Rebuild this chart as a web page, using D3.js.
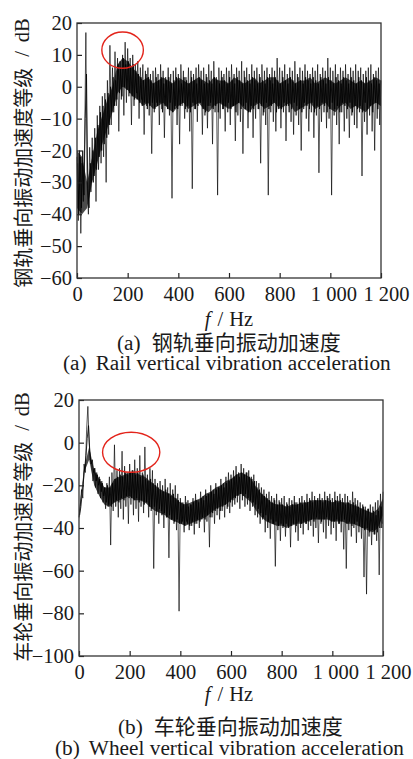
<!DOCTYPE html>
<html>
<head>
<meta charset="utf-8">
<script src="https://cdn.jsdelivr.net/npm/d3@7"></script>
<style>
  body { margin: 0; background: #fff; }
  svg { display: block; }
  text { fill: #1a1a1a; }
  .num { font-family: "Liberation Serif", "DejaVu Serif", serif; font-size: 20.5px; }
  .cap { font-family: "Liberation Serif", "DejaVu Serif", serif; font-size: 21.3px; }
  .cjk { font-family: "Noto Sans CJK SC", sans-serif; font-size: 20px; }
  .cjk-cap { font-family: "Noto Sans CJK SC", sans-serif; font-size: 21px; }
</style>
</head>
<body>
<svg id="chart" width="413" height="759"></svg>
<script>
const freqStep = 5

const railLevel = [
  -22, -42, -20, -46, -24, -36, -18, 17, -30, -40, -19, -33, -16, -30, -13, -36, -9, -26, -6, -24,
  -3, -22, -2, -30, 2, -15, 13, -12, 6, -8, 11, -6, 9, -14, 8, -4, 10, -9, 14, -5,
  12, -3, 9, -12, 10, -6, 7, -2, 8, -10, 6, -4, 7, -15, 5, -6, 6, -9, 4, -21,
  5, -8, 6, -5, 4, -12, 7, -7, 5, -16, 3, -6, 6, -9, 4, -35, 5, -7, 6, -12,
  4, -18, 7, -6, 5, -10, 3, -8, 6, -14, 5, -32, 4, -7, 6, -11, 7, -5, 5, -15,
  6, -9, 4, -13, 7, -6, 5, -18, 8, -8, 3, -34, 6, -10, 5, -7, 4, -14, 6, -8,
  5, -12, 7, -6, 4, -17, 6, -9, 5, -11, 8, -21, 5, -7, 6, -13, 4, -8, 7, -16,
  5, -10, 6, -7, 4, -24, 7, -9, 5, -12, 6, -34, 4, -8, 6, -11, 5, -14, 9, -7,
  6, -13, 5, -8, 7, -17, 4, -6, 6, -11, 5, -15, 8, -9, 4, -12, 6, -20, 5, -7,
  7, -10, 5, -14, 4, -8, 6, -16, 5, -9, 7, -27, 4, -11, 6, -8, 5, -13, 9, -10,
  6, -34, 5, -9, 7, -12, 4, -18, 6, -8, 5, -14, 7, -10, 4, -16, 6, -9, 5, -12,
  7, -13, 5, -8, 6, -28, 4, -11, 5, -15, 6, -9, 7, -14, 4, -20, 5, -10, 6, -12,
  2
]

// the in-between samples (2.5 Hz, 7.5 Hz, ...) that stay inside the dark core
const railLevelMid = [
  -24, -40, -22, -38, -20, -34, -10, 4, -32, -38, -24, -30, -20, -28, -16, -26, -12, -22, -8, -20,
  -6, -18, -4, -16, -2, -12, 0, -8, 3, -6, 2, -4, 7, -2, 6, -3, 9, 0, 7, -1,
  8, -2, 6, -3, 7, -4, 5, -4, 4, -5, 3, -6, 2, -5, 4, -7, 3, -6, 2, -5,
  1, -7, 3, -6, 2, -5, 3, -8, 1, -6, 2, -7, 3, -5, 1, -8, 2, -6, 3, -7,
  2, -6, 1, -5, 3, -7, 2, -6, 1, -8, 3, -5, 2, -7, 1, -6, 3, -5, 2, -7,
  1, -8, 3, -6, 2, -5, 1, -7, 3, -6, 2, -8, 1, -5, 3, -7, 2, -6, 1, -5,
  3, -7, 2, -6, 1, -8, 3, -5, 2, -7, 1, -6, 3, -5, 2, -8, 1, -6, 3, -7,
  2, -5, 1, -7, 3, -6, 2, -8, 1, -5, 3, -7, 2, -6, 1, -5, 3, -8, 2, -6,
  1, -7, 3, -5, 2, -6, 1, -8, 3, -7, 2, -5, 1, -6, 3, -7, 2, -8, 1, -5,
  3, -6, 2, -7, 1, -5, 3, -8, 2, -6, 1, -7, 3, -5, 2, -6, 1, -8, 3, -7,
  2, -5, 1, -7, 3, -6, 2, -8, 1, -5, 3, -6, 2, -7, 1, -5, 3, -8, 2, -6,
  1, -7, 3, -6, 2, -8, 1, -5, 3, -7, 2, -6, 1, -8, 3, -5, 2, -7, 1, -6
]

const wheelLevel = [
  -35, -30, -22, -26, -10, -14, 6, 17, 0, -8, -10, -18, -12, -21, -14, -24, -16, -26, -18, -28,
  -21, -31, -19, -30, -16, -48, -14, -32, -1, -30, -13, -35, -12, -31, -4, -36, -11, -30, -14, -38,
  -10, -29, -13, -34, -8, -31, -12, -37, -6, -30, -14, -33, -2, -28, -15, -35, -12, -32, -13, -59,
  -17, -34, -19, -38, -18, -32, -20, -40, -17, -35, -21, -54, -19, -36, -22, -38, -20, -41, -24, -79,
  -26, -38, -28, -42, -25, -37, -27, -41, -29, -39, -26, -43, -24, -38, -27, -40, -23, -36, -25, -42,
  -22, -37, -24, -49, -20, -35, -22, -38, -19, -34, -21, -36, -17, -32, -19, -35, -16, -31, -14, -33,
  -15, -30, -13, -29, -11, -28, -14, -31, -10, -27, -12, -30, -14, -29, -13, -32, -16, -30, -15, -34,
  -18, -35, -19, -38, -21, -36, -22, -42, -24, -40, -23, -45, -25, -38, -26, -58, -24, -41, -27, -46,
  -26, -40, -25, -44, -28, -39, -26, -49, -27, -38, -25, -42, -28, -46, -26, -40, -25, -43, -27, -38,
  -24, -41, -26, -39, -23, -44, -25, -40, -27, -47, -24, -38, -26, -42, -23, -45, -25, -39, -24, -43,
  -26, -40, -23, -46, -25, -38, -24, -42, -26, -50, -24, -59, -25, -41, -27, -44, -23, -40, -26, -47,
  -27, -42, -28, -45, -29, -63, -30, -71, -31, -44, -29, -48, -30, -43, -28, -46, -27, -62, -24, -40,
  -23
]

const wheelLevelMid = [
  -34, -30, -24, -18, -12, -6, 2, 8, -4, -10, -8, -14, -12, -18, -15, -20, -17, -23, -19, -25,
  -21, -28, -20, -29, -21, -30, -19, -28, -17, -27, -16, -28, -15, -26, -16, -27, -14, -25, -15, -26,
  -14, -26, -13, -27, -15, -26, -14, -28, -16, -27, -15, -29, -17, -28, -18, -30, -17, -31, -19, -30,
  -20, -32, -21, -31, -22, -34, -23, -33, -22, -35, -24, -34, -25, -36, -24, -37, -26, -36, -27, -38,
  -28, -37, -29, -39, -28, -38, -30, -39, -29, -37, -28, -38, -27, -36, -28, -37, -26, -35, -27, -36,
  -25, -34, -24, -35, -23, -33, -24, -32, -22, -31, -21, -32, -20, -30, -21, -29, -19, -30, -18, -28,
  -17, -27, -16, -26, -15, -25, -16, -24, -14, -25, -15, -24, -14, -26, -16, -27, -17, -28, -18, -29,
  -21, -31, -22, -33, -24, -35, -25, -34, -26, -37, -27, -36, -28, -38, -27, -37, -29, -39, -28, -38,
  -29, -39, -30, -38, -29, -40, -30, -39, -29, -38, -28, -39, -29, -37, -28, -38, -29, -37, -28, -38,
  -28, -37, -27, -36, -28, -37, -27, -35, -26, -36, -27, -37, -28, -36, -27, -35, -26, -36, -27, -37,
  -28, -37, -27, -36, -28, -38, -27, -37, -28, -36, -29, -38, -28, -37, -29, -39, -28, -38, -29, -37,
  -30, -39, -31, -40, -30, -41, -32, -40, -31, -42, -33, -41, -32, -43, -34, -42, -32, -40, -30, -38
]

// dense dark band of the trace, every 20 Hz, 0 .. 1200 Hz
const bandStep = 20
const railBandTop = [
  -20, -22, -30, -22, -14, -9, -4, 0, 7, 9, 8, 6, 4, 2, 3, 1, 2, 3, 2, 1,
  3, 2, 1, 2, 3, 2, 1, 3, 2, 2, 1, 3, 2, 1, 2, 3, 1, 2, 3, 3,
  1, 2, 3, 1, 2, 2, 3, 1, 2, 3, 2, 1, 2, 3, 2, 1, 2, 1, 2, 3,
  2
]
const railBandBottom = [
  -38, -40, -38, -30, -24, -18, -13, -8, -2, 0, -1, -3, -4, -6, -5, -7, -6, -5, -7, -8,
  -6, -5, -7, -6, -5, -7, -8, -6, -5, -6, -7, -6, -5, -7, -8, -6, -5, -7, -6, -5,
  -7, -6, -5, -8, -7, -6, -5, -7, -6, -5, -7, -8, -6, -5, -7, -6, -7, -8, -6, -5,
  -6
]
const wheelBandTop = [
  -32, -12, -2, -13, -17, -21, -21, -17, -16, -15, -14, -14, -15, -16, -18, -20, -22, -23, -24, -26,
  -28, -29, -28, -27, -26, -24, -23, -21, -20, -18, -17, -15, -14, -15, -17, -21, -24, -26, -28, -29,
  -29, -30, -29, -29, -28, -28, -27, -27, -27, -27, -28, -27, -28, -28, -29, -30, -31, -32, -33, -31,
  -26
]
const wheelBandBottom = [
  -36, -14, -8, -20, -25, -29, -30, -28, -27, -26, -25, -27, -27, -28, -30, -32, -33, -34, -36, -37,
  -38, -39, -38, -37, -36, -35, -33, -31, -30, -29, -27, -25, -24, -26, -28, -32, -35, -37, -38, -39,
  -39, -40, -39, -38, -38, -37, -36, -36, -36, -36, -37, -37, -37, -38, -38, -39, -40, -41, -42, -40,
  -34
]

const freqTicks = [0, 200, 400, 600, 800, 1000, 1200]
const railTicks = [20, 10, 0, -10, -20, -30, -40, -50, -60]
const wheelTicks = [20, 0, -20, -40, -60, -80, -100]

// red ellipse round the 200 Hz hump: [centre Hz, centre dB, half-width Hz, half-height dB]
const railMark = [180, 11.5, 82, 5.7]
const wheelMark = [206, -4.5, 113, 9.4]

const panels = [
  {
    level: railLevel, mid: railLevelMid, bandTop: railBandTop, bandBottom: railBandBottom,
    ticks: railTicks, domain: [-60, 20], mark: railMark,
    left: 77, right: 381, top: 23, bottom: 278,
    yTitle: "钢轨垂向振动加速度等级", titleY: 153,
    tag: "(a)", cn: "钢轨垂向振动加速度", en: "Rail vertical vibration acceleration",
    fY: 326, cnY: 350, enY: 370, cnX: 117, enX: 63
  },
  {
    level: wheelLevel, mid: wheelLevelMid, bandTop: wheelBandTop, bandBottom: wheelBandBottom,
    ticks: wheelTicks, domain: [-100, 20], mark: wheelMark,
    left: 79, right: 383, top: 400, bottom: 656,
    yTitle: "车轮垂向振动加速度等级", titleY: 527,
    tag: "(b)", cn: "车轮垂向振动加速度", en: "Wheel vertical vibration acceleration",
    fY: 701, cnY: 734, enY: 755, cnX: 118, enX: 55
  }
]

const fmtFreq = d3.formatLocale({
  decimal: ".", thousands: "\u00a0", grouping: [3], currency: ["", ""], minus: "\u2212"
}).format(",d")

const svg = d3.select("#chart")

panels.forEach(p => {
  const x = d3.scaleLinear().domain([0, 1200]).range([p.left, p.right])
  const y = d3.scaleLinear().domain(p.domain).range([p.bottom, p.top])
  const g = svg.append("g")

  // dark core of the spectrum
  g.append("path")
    .datum(p.bandTop)
    .attr("fill", "#000")
    .attr("fill-opacity", 0.7)
    .attr("d", d3.area()
      .x((d, i) => x(i * bandStep))
      .y0((d, i) => y(p.bandBottom[i]))
      .y1(d => y(d)))

  // in-between samples, then the main trace
  g.append("path")
    .datum(p.mid)
    .attr("fill", "none")
    .attr("stroke", "#000")
    .attr("stroke-width", 0.8)
    .attr("d", d3.line().x((d, i) => x(i * freqStep + freqStep / 2)).y(d => y(d)))

  g.append("path")
    .datum(p.level)
    .attr("fill", "none")
    .attr("stroke", "#000")
    .attr("stroke-width", 0.65)
    .attr("d", d3.line().x((d, i) => x(i * freqStep)).y(d => y(d)))

  // axes, ticks pointing inwards
  const xa = g.append("g")
    .attr("transform", `translate(0,${p.bottom})`)
    .call(d3.axisBottom(x).tickValues(freqTicks).tickFormat(fmtFreq)
      .tickSizeInner(-5).tickSizeOuter(0).tickPadding(8.5))
  xa.selectAll(".tick text").attr("dx", d => d >= 1200 ? 5 : d >= 1000 ? 3 : 0)

  const ya = g.append("g")
    .attr("transform", `translate(${p.left},0)`)
    .call(d3.axisLeft(y).tickValues(p.ticks)
      .tickSizeInner(-5).tickSizeOuter(0).tickPadding(5))

  ;[xa, ya].forEach(a => {
    a.attr("font-size", null).attr("font-family", null)
    a.select(".domain").remove()
    a.selectAll(".tick line").attr("stroke", "#222").attr("stroke-width", 1.2)
    a.selectAll(".tick text").attr("class", "num").attr("fill", "#1a1a1a")
  })

  g.append("rect")
    .attr("x", p.left).attr("y", p.top)
    .attr("width", p.right - p.left).attr("height", p.bottom - p.top)
    .attr("fill", "none").attr("stroke", "#333").attr("stroke-width", 1.3)

  // highlight
  const [mf, mv, mw, mh] = p.mark
  g.append("ellipse")
    .attr("cx", x(mf)).attr("cy", y(mv))
    .attr("rx", x(mf + mw) - x(mf)).attr("ry", y(mv - mh) - y(mv))
    .attr("fill", "none").attr("stroke", "#e3241b").attr("stroke-width", 1.4)

  // y title
  const yt = g.append("text")
    .attr("transform", `translate(22,${p.titleY}) rotate(-90)`)
    .attr("text-anchor", "middle")
    .attr("dominant-baseline", "central")
  yt.append("tspan").attr("class", "cjk").text(p.yTitle)
  yt.append("tspan").attr("class", "num").attr("dx", 11).text("/")
  yt.append("tspan").attr("class", "num").attr("dx", 9).text("dB")

  // x title
  const xt = g.append("text").attr("class", "num")
    .attr("x", 229).attr("y", p.fY).attr("text-anchor", "middle")
  xt.append("tspan").attr("font-style", "italic").text("f")
  xt.append("tspan").attr("dx", 7).text("/")
  xt.append("tspan").attr("dx", 6).text("Hz")

  // captions
  const cn = g.append("text").attr("x", p.cnX).attr("y", p.cnY)
  cn.append("tspan").attr("class", "cap").text(p.tag)
  cn.append("tspan").attr("class", "cjk-cap").attr("dx", 11).text(p.cn)

  const en = g.append("text").attr("class", "cap")
    .attr("x", p.enX).attr("y", p.enY)
  en.append("tspan").text(p.tag)
  en.append("tspan").attr("dx", 9).text(p.en)
})
</script>
</body>
</html>
